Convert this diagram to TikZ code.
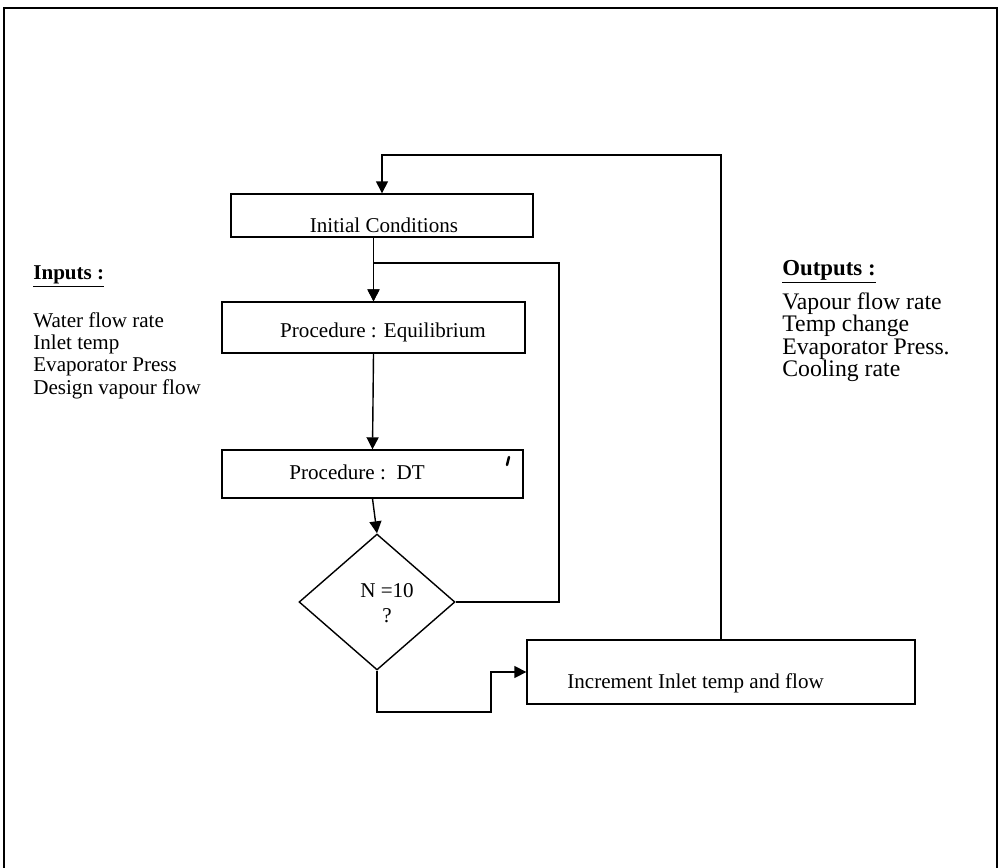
\documentclass[tikz,border=0pt]{standalone}
\usepackage{fontspec}
\setmainfont{Liberation Serif}
\usetikzlibrary{arrows.meta,shapes.geometric}

\begin{document}
\begin{tikzpicture}[x=0.02cm, y=-0.02cm,
	every node/.style={font=\fontsize{12}{12.7}\selectfont},
	box/.style={draw=black, thick, rectangle, inner sep=0pt},
	txt/.style={inner sep=0pt},
	arr/.style={draw=black, thick, -{Triangle[length=2.4mm, width=2.4mm]}}]
			\useasboundingbox (0,0) rectangle (1000,868);
			\draw[thick] (4,868) -- (4,8) -- (997,8) -- (997,868);
			
			\node[box, minimum width=6.04cm, minimum height=0.86cm] (init) at (382,215.5){};
			\node[box, minimum width=6.06cm, minimum height=1.02cm] (eq) at (373.5,327.5){};
			\node[box, minimum width=6.02cm, minimum height=0.96cm] (dt) at (372.5,474){};
			\node[box, diamond, minimum width=3.12cm, minimum height=2.72cm] (dec) at (377,602){};
			\node[box, minimum width=7.76cm, minimum height=1.28cm] (inc) at (721,672){};
			
			\node[txt] (initT) at (384,225) {Initial Conditions};
			\node[txt] (eqT) at (383,332) {Procedure : Equilibrium};
			\node[txt] (dtT) at (357,472) {Procedure :\ \ DT};
			\node[txt, align=center, font=\fontsize{12}{14.5}\selectfont] (decT) at (387,603) {N =10\\?};
			\node[txt, anchor=west] (incT) at (567,683) {Increment Inlet temp and flow};
			\draw[line width=1.4pt, line cap=round] (509,457) -- (507,465);
			
			\node[txt, anchor=west] (inH) at (33,277) {\textbf{\underline{Inputs :}}};
			\node[txt, anchor=north west, align=left] (inL) at (33,312) {Water flow rate\\Inlet temp\\Evaporator Press\\Design vapour flow};
			\node[txt, anchor=west, font=\fontsize{13}{12.7}\selectfont] (outH) at (782,272) {\textbf{\underline{Outputs :}}};
			\node[txt, anchor=north west, align=left, font=\fontsize{13.5}{12.8}\selectfont] (outL) at (782,292) {Vapour flow rate\\Temp change\\Evaporator Press.\\Cooling rate};
			
			\coordinate (c1) at (559,263);
			\coordinate (c2) at (491,712);
			\coordinate (c3) at (382,155);
			
			\draw[arr] (init.south -| eq.north) -- (eq.north);
			\draw[arr] (dec.east) -| (c1) -| (eq.north);
			\draw[arr] (eq.south) -- (dt.north);
			\draw[arr] (dt.south) -- (dec.north);
			\draw[arr] (dec.south) |- (c2) |- (inc.west);
			\draw[arr] (inc.north) |- (c3) -- (init.north);
			\end{tikzpicture}
\end{document}
